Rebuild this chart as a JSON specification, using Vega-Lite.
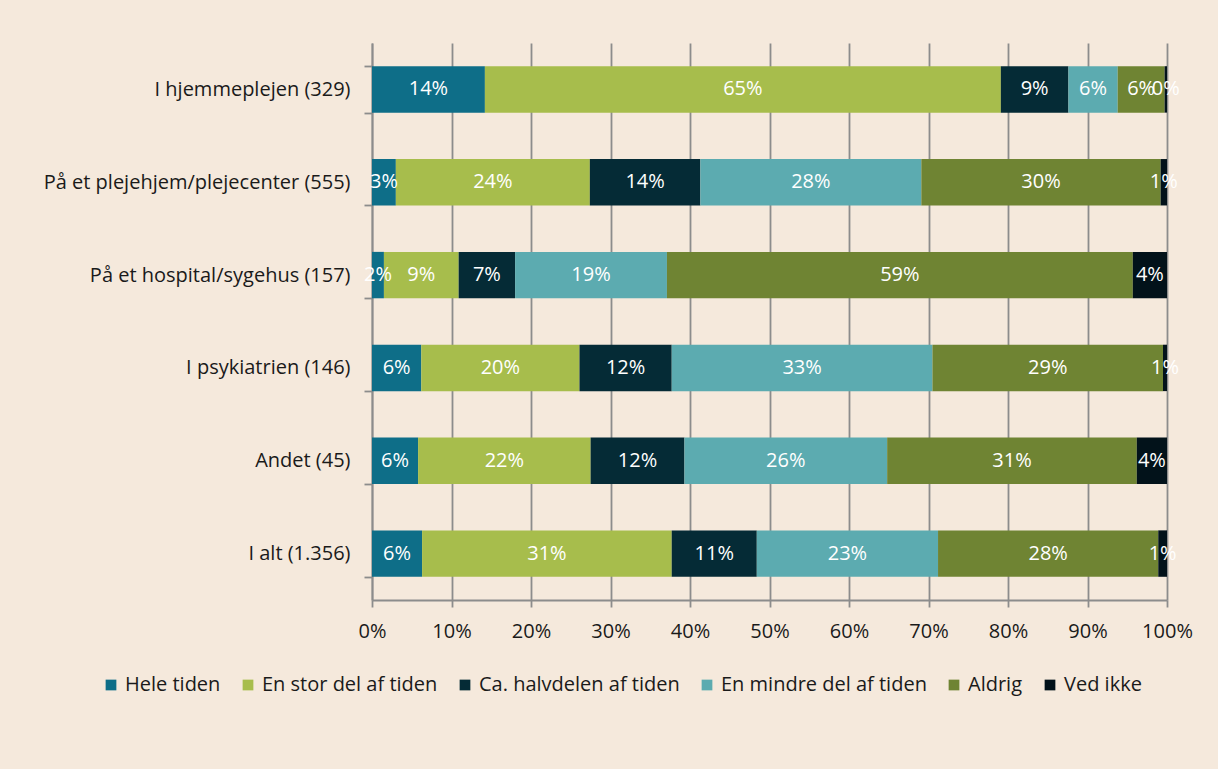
{
  "$schema": "https://vega.github.io/schema/vega-lite/v6.json",
  "autosize": {"type": "none"},
  "width": 795,
  "height": 557,
  "padding": {"left": 372, "top": 43, "right": 51, "bottom": 169},
  "background": "#f5e9dc",
  "data": {"values": [
    {"cat": "I hjemmeplejen (329)", "resp": "Hele tiden", "k": 1, "v": 14.2, "lbl": "14%"},
    {"cat": "I hjemmeplejen (329)", "resp": "En stor del af tiden", "k": 2, "v": 64.9, "lbl": "65%"},
    {"cat": "I hjemmeplejen (329)", "resp": "Ca. halvdelen af tiden", "k": 3, "v": 8.5, "lbl": "9%"},
    {"cat": "I hjemmeplejen (329)", "resp": "En mindre del af tiden", "k": 4, "v": 6.2, "lbl": "6%"},
    {"cat": "I hjemmeplejen (329)", "resp": "Aldrig", "k": 5, "v": 5.9, "lbl": "6%"},
    {"cat": "I hjemmeplejen (329)", "resp": "Ved ikke", "k": 6, "v": 0.3, "lbl": "0%"},
    {"cat": "På et plejehjem/plejecenter (555)", "resp": "Hele tiden", "k": 1, "v": 3.0, "lbl": "3%"},
    {"cat": "På et plejehjem/plejecenter (555)", "resp": "En stor del af tiden", "k": 2, "v": 24.4, "lbl": "24%"},
    {"cat": "På et plejehjem/plejecenter (555)", "resp": "Ca. halvdelen af tiden", "k": 3, "v": 13.9, "lbl": "14%"},
    {"cat": "På et plejehjem/plejecenter (555)", "resp": "En mindre del af tiden", "k": 4, "v": 27.8, "lbl": "28%"},
    {"cat": "På et plejehjem/plejecenter (555)", "resp": "Aldrig", "k": 5, "v": 30.1, "lbl": "30%"},
    {"cat": "På et plejehjem/plejecenter (555)", "resp": "Ved ikke", "k": 6, "v": 0.8, "lbl": "1%"},
    {"cat": "På et hospital/sygehus (157)", "resp": "Hele tiden", "k": 1, "v": 1.5, "lbl": "2%"},
    {"cat": "På et hospital/sygehus (157)", "resp": "En stor del af tiden", "k": 2, "v": 9.4, "lbl": "9%"},
    {"cat": "På et hospital/sygehus (157)", "resp": "Ca. halvdelen af tiden", "k": 3, "v": 7.1, "lbl": "7%"},
    {"cat": "På et hospital/sygehus (157)", "resp": "En mindre del af tiden", "k": 4, "v": 19.1, "lbl": "19%"},
    {"cat": "På et hospital/sygehus (157)", "resp": "Aldrig", "k": 5, "v": 58.6, "lbl": "59%"},
    {"cat": "På et hospital/sygehus (157)", "resp": "Ved ikke", "k": 6, "v": 4.3, "lbl": "4%"},
    {"cat": "I psykiatrien (146)", "resp": "Hele tiden", "k": 1, "v": 6.2, "lbl": "6%"},
    {"cat": "I psykiatrien (146)", "resp": "En stor del af tiden", "k": 2, "v": 19.9, "lbl": "20%"},
    {"cat": "I psykiatrien (146)", "resp": "Ca. halvdelen af tiden", "k": 3, "v": 11.6, "lbl": "12%"},
    {"cat": "I psykiatrien (146)", "resp": "En mindre del af tiden", "k": 4, "v": 32.8, "lbl": "33%"},
    {"cat": "I psykiatrien (146)", "resp": "Aldrig", "k": 5, "v": 29.0, "lbl": "29%"},
    {"cat": "I psykiatrien (146)", "resp": "Ved ikke", "k": 6, "v": 0.5, "lbl": "1%"},
    {"cat": "Andet (45)", "resp": "Hele tiden", "k": 1, "v": 5.8, "lbl": "6%"},
    {"cat": "Andet (45)", "resp": "En stor del af tiden", "k": 2, "v": 21.7, "lbl": "22%"},
    {"cat": "Andet (45)", "resp": "Ca. halvdelen af tiden", "k": 3, "v": 11.8, "lbl": "12%"},
    {"cat": "Andet (45)", "resp": "En mindre del af tiden", "k": 4, "v": 25.5, "lbl": "26%"},
    {"cat": "Andet (45)", "resp": "Aldrig", "k": 5, "v": 31.4, "lbl": "31%"},
    {"cat": "Andet (45)", "resp": "Ved ikke", "k": 6, "v": 3.8, "lbl": "4%"},
    {"cat": "I alt (1.356)", "resp": "Hele tiden", "k": 1, "v": 6.3, "lbl": "6%"},
    {"cat": "I alt (1.356)", "resp": "En stor del af tiden", "k": 2, "v": 31.4, "lbl": "31%"},
    {"cat": "I alt (1.356)", "resp": "Ca. halvdelen af tiden", "k": 3, "v": 10.7, "lbl": "11%"},
    {"cat": "I alt (1.356)", "resp": "En mindre del af tiden", "k": 4, "v": 22.8, "lbl": "23%"},
    {"cat": "I alt (1.356)", "resp": "Aldrig", "k": 5, "v": 27.7, "lbl": "28%"},
    {"cat": "I alt (1.356)", "resp": "Ved ikke", "k": 6, "v": 1.1, "lbl": "1%"}
  ]},
  "encoding": {
    "y": {
      "field": "cat", "type": "nominal",
      "sort": ["I hjemmeplejen (329)", "På et plejehjem/plejecenter (555)", "På et hospital/sygehus (157)", "I psykiatrien (146)", "Andet (45)", "I alt (1.356)"],
      "scale": {"paddingInner": 0.5, "paddingOuter": 0.25},
      "axis": {
        "title": null, "tickBand": "extent", "tickSize": 8, "labelPadding": 14, "labelLimit": 400,
        "labelFontSize": 20, "labelFont": "Open Sans", "labelColor": "#1a1a1a",
        "domainColor": "#8c8c8c", "tickColor": "#8c8c8c", "domainWidth": 1.8, "tickWidth": 1.8,
        "grid": false
      }
    },
    "x": {
      "field": "v", "type": "quantitative", "stack": "zero",
      "scale": {"domain": [0, 100], "nice": false},
      "axis": {
        "title": null, "values": [0,10,20,30,40,50,60,70,80,90,100],
        "labelExpr": "datum.value + '%'", "tickSize": 7, "labelPadding": 14,
        "labelFontSize": 20, "labelFont": "Open Sans", "labelColor": "#1a1a1a",
        "domainColor": "#8c8c8c", "tickColor": "#8c8c8c", "domainWidth": 1.8, "tickWidth": 1.8,
        "grid": true, "gridColor": "#8c8c8c", "gridWidth": 1.8, "labelFlush": false
      }
    },
    "order": {"field": "k", "type": "quantitative"}
  },
  "layer": [
    {
      "mark": {"type": "bar"},
      "encoding": {
        "color": {
          "field": "resp", "type": "nominal",
          "scale": {
            "domain": ["Hele tiden", "En stor del af tiden", "Ca. halvdelen af tiden", "En mindre del af tiden", "Aldrig", "Ved ikke"],
            "range": ["#0e6e88", "#a7bd4c", "#052b36", "#5cabb0", "#6f8433", "#02121a"]
          },
          "legend": {
            "title": null, "orient": "none", "direction": "horizontal", "columns": 6,
            "legendX": -271, "legendY": 632, "padding": 0, "labelLimit": 400,
            "symbolType": "square", "symbolSize": 115, "symbolStrokeWidth": 0,
            "labelFontSize": 20, "labelFont": "Open Sans", "labelColor": "#1a1a1a",
            "labelOffset": 4, "columnPadding": 17
          }
        }
      }
    },
    {
      "mark": {"type": "text", "color": "white", "fontSize": 20, "font": "Open Sans", "baseline": "middle", "align": "center"},
      "encoding": {
        "x": {"field": "v", "type": "quantitative", "stack": "zero", "bandPosition": 0.5},
        "text": {"field": "lbl"}
      }
    }
  ],
  "config": {"view": {"stroke": null}}
}
